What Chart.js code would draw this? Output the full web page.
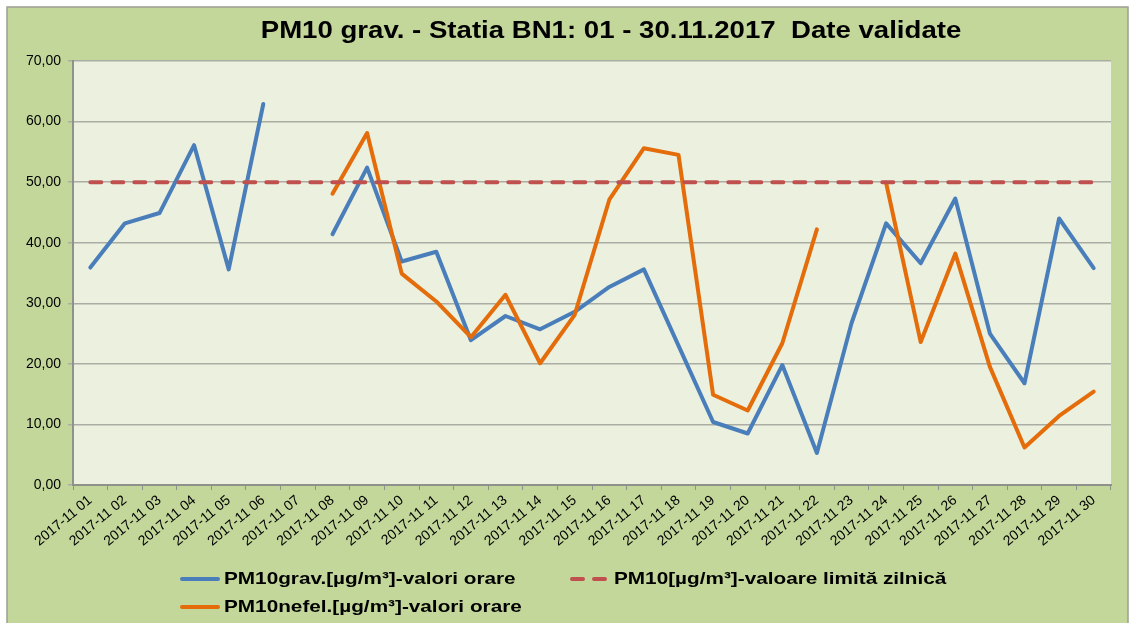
<!DOCTYPE html>
<html>
<head>
<meta charset="utf-8">
<title>PM10 grav. - Statia BN1</title>
<script src="https://cdn.jsdelivr.net/npm/chart.js@4.4.0/dist/chart.umd.min.js"></script>
<style>
    html, body { margin: 0; padding: 0; background: #ffffff; }
    #chartBox { width: 1129px; height: 623px; }
</style>
</head>
<body>
<div id="chartBox"><canvas id="pmChart"></canvas></div>
<script>
// Date
const chartTitle = 'PM10 grav. - Statia BN1: 01 - 30.11.2017  Date validate';

const days = [
    '2017-11 01', '2017-11 02', '2017-11 03', '2017-11 04', '2017-11 05',
    '2017-11 06', '2017-11 07', '2017-11 08', '2017-11 09', '2017-11 10',
    '2017-11 11', '2017-11 12', '2017-11 13', '2017-11 14', '2017-11 15',
    '2017-11 16', '2017-11 17', '2017-11 18', '2017-11 19', '2017-11 20',
    '2017-11 21', '2017-11 22', '2017-11 23', '2017-11 24', '2017-11 25',
    '2017-11 26', '2017-11 27', '2017-11 28', '2017-11 29', '2017-11 30'
];

const pm10Grav = [
    35.9, 43.2, 44.9, 56.1, 35.6, 62.9, null, 41.4, 52.4, 36.9,
    38.5, 23.9, 27.9, 25.7, 28.6, 32.7, 35.6, 23.0, 10.4, 8.5,
    19.8, 5.3, 26.7, 43.2, 36.6, 47.3, 25.0, 16.8, 44.0, 35.8
];

const pm10Nefel = [
    null, null, null, null, null, null, null, 48.1, 58.1, 34.9,
    30.3, 24.4, 31.4, 20.1, 28.1, 47.1, 55.6, 54.5, 14.9, 12.3,
    23.4, 42.2, null, 49.9, 23.6, 38.2, 19.5, 6.2, 11.4, 15.4
];

const dailyLimit = [
    50, 50, 50, 50, 50, 50, 50, 50, 50, 50,
    50, 50, 50, 50, 50, 50, 50, 50, 50, 50,
    50, 50, 50, 50, 50, 50, 50, 50, 50, 50
];

const seriesNames = [
    'PM10grav.[µg/m³]-valori orare',
    'PM10nefel.[µg/m³]-valori orare',
    'PM10[µg/m³]-valoare limită zilnică'
];

const yMin = 0;
const yMax = 70;
const yStep = 10;

const FONT = '"Liberation Sans", Arial, sans-serif';

// textul din Excel apare putin latit pe orizontala
function drawWideText(ctx, text, x, y, stretch) {
    ctx.save();
    ctx.translate(x, y);
    ctx.scale(stretch, 1);
    ctx.fillText(text, 0, 0);
    ctx.restore();
}

// fundal, rama, titlu si legenda in stil Excel
const excelLook = {
    id: 'excelLook',
    beforeDraw(chart) {
        const { ctx, chartArea: a, width, height } = chart;
        ctx.save();
        ctx.fillStyle = '#ffffff';
        ctx.fillRect(0, 0, width, height);
        ctx.fillStyle = '#c4d79b';
        ctx.fillRect(7, 7, width - 8, height - 7);
        ctx.strokeStyle = '#9c9e94';
        ctx.lineWidth = 1.5;
        ctx.strokeRect(7, 7, width - 8, height + 5);
        ctx.fillStyle = '#ebf1de';
        ctx.fillRect(a.left, a.top, a.right - a.left, a.bottom - a.top);
        ctx.restore();
    },
    afterDraw(chart) {
        const { ctx } = chart;
        ctx.save();
        ctx.fillStyle = '#000000';
        ctx.font = 'bold 23px ' + FONT;
        ctx.textAlign = 'center';
        ctx.textBaseline = 'middle';
        drawWideText(ctx, chartTitle, 611, 32, 1.2);

        const slots = [
            { index: 0, x: 180, y: 579 },
            { index: 2, x: 570, y: 579 },
            { index: 1, x: 180, y: 607 }
        ];
        ctx.font = 'bold 17px ' + FONT;
        ctx.textAlign = 'left';
        slots.forEach(slot => {
            const ds = chart.data.datasets[slot.index];
            ctx.strokeStyle = ds.borderColor;
            ctx.lineWidth = ds.borderWidth;
            ctx.lineCap = 'round';
            ctx.setLineDash(ds.borderDash || []);
            ctx.beginPath();
            ctx.moveTo(slot.x + 2, slot.y);
            ctx.lineTo(slot.x + 38, slot.y);
            ctx.stroke();
            ctx.setLineDash([]);
            drawWideText(ctx, ds.label, slot.x + 44, slot.y, 1.22);
        });
        ctx.restore();
    }
};

const ctx = document.getElementById('pmChart');

new Chart(ctx, {
    type: 'line',
    data: {
        labels: days,
        datasets: [
            {
                label: seriesNames[0],
                data: pm10Grav,
                borderColor: '#4a7ebb',
                borderWidth: 4,
                order: 2
            },
            {
                label: seriesNames[1],
                data: pm10Nefel,
                borderColor: '#e46c0a',
                borderWidth: 4,
                order: 1
            },
            {
                label: seriesNames[2],
                data: dailyLimit,
                borderColor: '#c0504d',
                borderWidth: 4,
                borderDash: [11, 11],
                order: 0
            }
        ]
    },
    options: {
        responsive: true,
        maintainAspectRatio: false,
        animation: false,
        spanGaps: false,
        elements: {
            point: { radius: 0, hoverRadius: 0 },
            line: { tension: 0, borderCapStyle: 'round', borderJoinStyle: 'round', fill: false }
        },
        layout: {
            padding: { left: 7, right: 18, top: 61, bottom: 60 }
        },
        scales: {
            x: {
                offset: true,
                grid: {
                    offset: true,
                    drawOnChartArea: false,
                    drawTicks: true,
                    tickLength: 5,
                    color: '#8f918a'
                },
                border: { color: '#8f918a', width: 2 },
                ticks: {
                    autoSkip: false,
                    minRotation: 40,
                    maxRotation: 40,
                    padding: 2,
                    color: '#000000',
                    font: { family: FONT, size: 14 }
                },
                afterFit(scale) {
                    scale.height = 78;
                }
            },
            y: {
                min: yMin,
                max: yMax,
                ticks: {
                    stepSize: yStep,
                    padding: 7,
                    color: '#000000',
                    font: { family: FONT, size: 14 },
                    callback: value => value.toFixed(2).replace('.', ',')
                },
                grid: {
                    color: '#abada4',
                    lineWidth: 1.5,
                    tickLength: 5
                },
                border: { color: '#8f918a', width: 2 },
                afterFit(scale) {
                    scale.width = 66;
                }
            }
        },
        plugins: {
            legend: { display: false },
            title: { display: false },
            tooltip: { enabled: false }
        }
    },
    plugins: [excelLook]
});
</script>
</body>
</html>
